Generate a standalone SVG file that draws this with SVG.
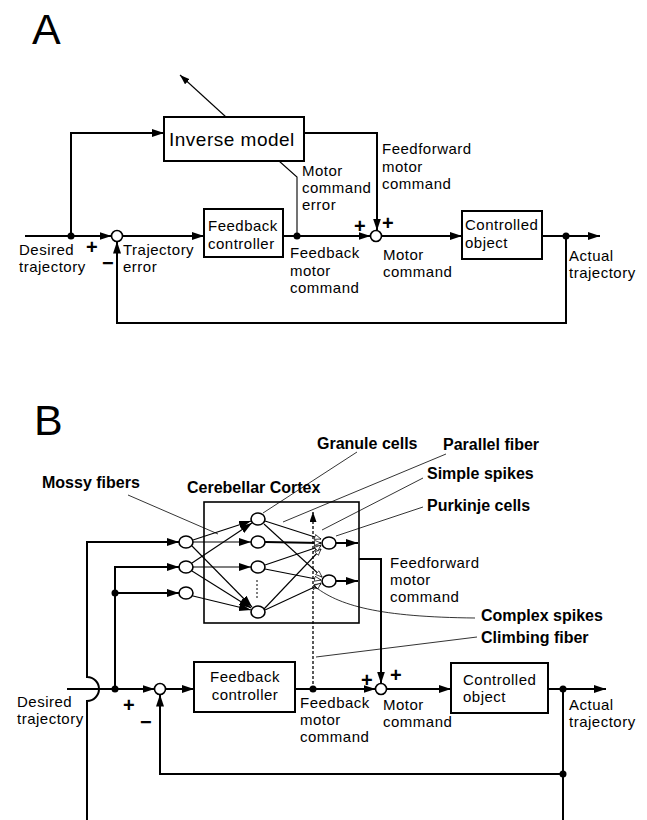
<svg xmlns="http://www.w3.org/2000/svg" width="647" height="820" viewBox="0 0 647 820">
<style>
.bg{fill:#fff}
.box{fill:#fff;stroke:#000;stroke-width:2}
.sum{fill:#fff;stroke:#000;stroke-width:1.6}
.cell{fill:#fff;stroke:#000;stroke-width:1.6}
.dot{fill:#000}
.ln{fill:none;stroke:#000;stroke-width:2}
.thin{fill:none;stroke:#000;stroke-width:1.1}
.ptr{fill:none;stroke:#000;stroke-width:0.8}
.dash{fill:none;stroke:#000;stroke-width:1.3;stroke-dasharray:3 2}
.t{font-family:"Liberation Sans",Arial,sans-serif;font-size:15px;letter-spacing:0.5px;fill:#000}
.tb{font-family:"Liberation Sans",Arial,sans-serif;font-size:16px;font-weight:bold;fill:#000}
.big{font-family:"Liberation Sans",Arial,sans-serif;font-size:43px;fill:#000}
.sg{font-family:"Liberation Sans",Arial,sans-serif;font-size:20px;font-weight:bold;fill:#000}
</style>
<defs>
<marker id="ah" markerUnits="userSpaceOnUse" markerWidth="13" markerHeight="9" refX="12" refY="4" orient="auto">
<path d="M0,0 L12,4 L0,8 z" fill="#000"/>
</marker>
<marker id="ahs" markerUnits="userSpaceOnUse" markerWidth="11" markerHeight="9" refX="10" refY="3.5" orient="auto">
<path d="M0,0 L10,3.5 L0,7 z" fill="#000"/>
</marker>
<marker id="ho" markerUnits="userSpaceOnUse" markerWidth="9" markerHeight="8" refX="7" refY="3" orient="auto">
<path d="M0.5,0.5 L7,3 L0.5,5.5 z" fill="#fff" stroke="#000" stroke-width="0.7"/>
</marker>
</defs>
<rect class="bg" x="0" y="0" width="647" height="820"/>

<!-- ================= PANEL A ================= -->
<text class="big" x="32" y="44">A</text>

<g id="a-connectors">
<line class="thin" x1="226" y1="117" x2="180" y2="75" marker-end="url(#ahs)"/>
<path class="ln" d="M71,236 V133 H164" marker-end="url(#ah)"/>
<path class="ln" d="M25,236 H111.5" marker-end="url(#ah)"/>
<path class="ln" d="M122.5,236 H204" marker-end="url(#ah)"/>
<path class="ln" d="M283,236 H370.5" marker-end="url(#ah)"/>
<path class="thin" d="M297,236 V177 L279,161"/>
<path class="ln" d="M304,133 H377 V230.5" marker-end="url(#ah)"/>
<path class="ln" d="M381.5,236 H462" marker-end="url(#ah)"/>
<path class="ln" d="M542,236 H600" marker-end="url(#ah)"/>
<path class="ln" d="M566,236 V323 H117 V241.5" marker-end="url(#ah)"/>
<circle class="dot" cx="71" cy="236" r="3.5"/>
<circle class="dot" cx="297" cy="236" r="3.5"/>
<circle class="dot" cx="566" cy="236" r="3.5"/>
</g>

<g id="a-inverse-model">
<rect class="box" x="164" y="117" width="140" height="44"/>
<text class="t" x="169" y="146" style="font-size:19px">Inverse model</text>
</g>

<g id="a-sum1">
<circle class="sum" cx="117" cy="236" r="5.5"/>
<text class="sg" x="86" y="254">+</text>
<text class="sg" x="102" y="270">−</text>
</g>

<g id="a-feedback-controller">
<rect class="box" x="204" y="209" width="79" height="48"/>
<text class="t" x="208" y="231">Feedback</text>
<text class="t" x="208" y="249">controller</text>
</g>

<g id="a-sum2">
<circle class="sum" cx="376" cy="236" r="5.5"/>
<text class="sg" x="354" y="233">+</text>
<text class="sg" x="382" y="230">+</text>
</g>

<g id="a-controlled-object">
<rect class="box" x="462" y="211" width="80" height="48"/>
<text class="t" x="465" y="230">Controlled</text>
<text class="t" x="465" y="248">object</text>
</g>

<g id="a-labels">
<text class="t" x="19" y="255">Desired</text>
<text class="t" x="19" y="272">trajectory</text>
<text class="t" x="123" y="255">Trajectory</text>
<text class="t" x="123" y="272">error</text>
<text class="t" x="302" y="176">Motor</text>
<text class="t" x="302" y="193">command</text>
<text class="t" x="302" y="210">error</text>
<text class="t" x="382" y="154">Feedforward</text>
<text class="t" x="382" y="172">motor</text>
<text class="t" x="382" y="189">command</text>
<text class="t" x="290" y="258">Feedback</text>
<text class="t" x="290" y="276">motor</text>
<text class="t" x="290" y="293">command</text>
<text class="t" x="383" y="260">Motor</text>
<text class="t" x="383" y="277">command</text>
<text class="t" x="569" y="261">Actual</text>
<text class="t" x="569" y="278">trajectory</text>
</g>

<!-- ================= PANEL B ================= -->
<text class="big" x="34" y="435">B</text>

<g id="b-cerebellar-cortex">
<rect class="box" x="204" y="502" width="155" height="121" style="stroke-width:1.6"/>
<text class="tb" x="187" y="493">Cerebellar Cortex</text>
</g>

<g id="b-connectors">
<!-- inputs -->
<path class="ln" d="M87,820 V701 A12,12 0 0,0 87,677 V542 H179" marker-end="url(#ah)"/>
<path class="ln" d="M115,689 V567 H179" marker-end="url(#ah)"/>
<path class="ln" d="M115,593 H179" marker-end="url(#ah)"/>
<circle class="dot" cx="115" cy="593" r="3.5"/>
<circle class="dot" cx="115" cy="689" r="3.5"/>
<!-- main loop -->
<path class="ln" d="M67,689 H154.5" marker-end="url(#ah)"/>
<path class="ln" d="M165.5,689 H194" marker-end="url(#ah)"/>
<path class="ln" d="M295,689 H375.5" marker-end="url(#ah)"/>
<circle class="dot" cx="313" cy="689" r="3.5"/>
<path class="dash" d="M313,689 V512" marker-end="url(#ahs)"/>
<path class="ln" d="M359,559 H381 V683.5" marker-end="url(#ah)"/>
<path class="ln" d="M386.5,689 H451" marker-end="url(#ah)"/>
<path class="ln" d="M548,689 H606" marker-end="url(#ah)"/>
<path class="ln" d="M563,689 V820"/>
<path class="ln" d="M563,774 H160 V694.5" marker-end="url(#ah)"/>
<circle class="dot" cx="563" cy="689" r="3.5"/>
<circle class="dot" cx="563" cy="774" r="3.5"/>
<!-- mossy fiber -> granule -->
<line class="thin" x1="193" y1="540" x2="251" y2="521" marker-end="url(#ah)"/>
<line class="thin" x1="193" y1="542" x2="251" y2="542" marker-end="url(#ah)"/>
<line class="thin" x1="192" y1="546" x2="252" y2="607" marker-end="url(#ah)"/>
<line class="thin" x1="192" y1="563" x2="252" y2="523" marker-end="url(#ah)"/>
<line class="thin" x1="193" y1="567" x2="251" y2="567" marker-end="url(#ah)"/>
<line class="thin" x1="192" y1="571" x2="251" y2="608" marker-end="url(#ah)"/>
<line class="thin" x1="193" y1="596" x2="251" y2="610" marker-end="url(#ah)"/>
<line class="dash" x1="257" y1="580" x2="257" y2="599" style="stroke-width:1;stroke-dasharray:2 2"/>
<!-- parallel fibers -> Purkinje -->
<line class="thin" x1="265" y1="521" x2="321" y2="539" marker-end="url(#ho)"/>
<line class="thin" x1="264" y1="524" x2="322" y2="577" marker-end="url(#ho)"/>
<line class="ln" x1="265" y1="542" x2="321" y2="543" marker-end="url(#ho)"/>
<line class="thin" x1="265" y1="565" x2="321" y2="546" marker-end="url(#ho)"/>
<line class="thin" x1="265" y1="569" x2="321" y2="580" marker-end="url(#ho)"/>
<line class="thin" x1="264" y1="609" x2="321" y2="549" marker-end="url(#ho)"/>
<line class="thin" x1="265" y1="610" x2="321" y2="584" marker-end="url(#ho)"/>
<!-- climbing fiber branches -->
<line class="ptr" x1="313" y1="552" x2="321" y2="545" marker-end="url(#ho)"/>
<line class="ptr" x1="313" y1="590" x2="321" y2="583" marker-end="url(#ho)"/>
<!-- Purkinje outputs -->
<path class="ln" d="M336,543 H358" marker-end="url(#ah)"/>
<path class="ln" d="M336,581 H358" marker-end="url(#ah)"/>
<!-- label pointers -->
<line class="ptr" x1="128" y1="495" x2="218" y2="534"/>
<line class="ptr" x1="357" y1="452" x2="263" y2="513"/>
<line class="ptr" x1="446" y1="454" x2="283" y2="522"/>
<line class="ptr" x1="423" y1="478" x2="322" y2="530"/>
<line class="ptr" x1="423" y1="507" x2="336" y2="536"/>
<path class="ptr" d="M313,585 C338,606 380,617 475,618"/>
<line class="ptr" x1="316" y1="657" x2="477" y2="637"/>
</g>

<g id="b-mossy-cells">
<ellipse class="cell" cx="186" cy="542" rx="7" ry="6"/>
<ellipse class="cell" cx="186" cy="567" rx="7" ry="6"/>
<ellipse class="cell" cx="186" cy="593" rx="7" ry="6"/>
</g>
<g id="b-granule-cells">
<ellipse class="cell" cx="258" cy="519" rx="7" ry="6"/>
<ellipse class="cell" cx="258" cy="542" rx="7" ry="6"/>
<ellipse class="cell" cx="258" cy="567" rx="7" ry="6"/>
<ellipse class="cell" cx="258" cy="612" rx="7" ry="6"/>
</g>
<g id="b-purkinje-cells">
<ellipse class="cell" cx="329" cy="543" rx="7" ry="6"/>
<ellipse class="cell" cx="329" cy="581" rx="7" ry="6"/>
</g>

<g id="b-sum1">
<circle class="sum" cx="160" cy="689" r="5.5"/>
<text class="sg" x="123" y="712">+</text>
<text class="sg" x="140" y="729">−</text>
</g>

<g id="b-feedback-controller">
<rect class="box" x="194" y="662" width="101" height="50"/>
<text class="t" x="245" y="682" text-anchor="middle">Feedback</text>
<text class="t" x="245" y="700" text-anchor="middle">controller</text>
</g>

<g id="b-sum2">
<circle class="sum" cx="381" cy="689" r="5.5"/>
<text class="sg" x="361" y="687">+</text>
<text class="sg" x="390" y="682">+</text>
</g>

<g id="b-controlled-object">
<rect class="box" x="451" y="663" width="97" height="50"/>
<text class="t" x="463" y="685">Controlled</text>
<text class="t" x="463" y="702">object</text>
</g>

<g id="b-labels">
<text class="tb" x="42" y="488">Mossy fibers</text>
<text class="tb" x="317" y="449">Granule cells</text>
<text class="tb" x="443" y="450">Parallel fiber</text>
<text class="tb" x="427" y="479">Simple spikes</text>
<text class="tb" x="427" y="511">Purkinje cells</text>
<text class="tb" x="481" y="621">Complex spikes</text>
<text class="tb" x="481" y="643">Climbing fiber</text>
<text class="t" x="390" y="568">Feedforward</text>
<text class="t" x="390" y="585">motor</text>
<text class="t" x="390" y="602">command</text>
<text class="t" x="17" y="707">Desired</text>
<text class="t" x="17" y="724">trajectory</text>
<text class="t" x="300" y="708">Feedback</text>
<text class="t" x="300" y="725">motor</text>
<text class="t" x="300" y="742">command</text>
<text class="t" x="383" y="710">Motor</text>
<text class="t" x="383" y="727">command</text>
<text class="t" x="569" y="710">Actual</text>
<text class="t" x="569" y="727">trajectory</text>
</g>
</svg>
